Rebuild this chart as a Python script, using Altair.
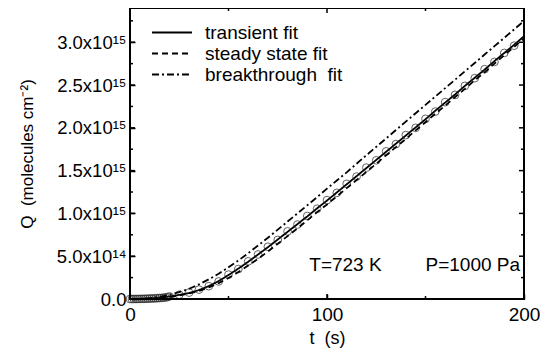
import altair as alt
import pandas as pd

# ---- data (Q values in units of 1e15 molecules cm^-2) ----
t_fit = list(range(0, 205, 5))
q_transient = [0.0, 0.002, 0.006, 0.015, 0.03, 0.048, 0.07, 0.105, 0.15, 0.21, 0.28,
               0.355, 0.435, 0.52, 0.605, 0.695, 0.785, 0.875, 0.965, 1.06, 1.15,
               1.245, 1.34, 1.435, 1.53, 1.625, 1.72, 1.815, 1.91, 2.005, 2.1,
               2.2, 2.295, 2.39, 2.49, 2.585, 2.68, 2.78, 2.875, 2.97, 3.07]
q_steady = [0.0, 0.0, 0.0, 0.005, 0.02, 0.04, 0.065, 0.095, 0.135, 0.185, 0.245,
            0.315, 0.39, 0.47, 0.555, 0.645, 0.735, 0.825, 0.92, 1.015, 1.105,
            1.2, 1.295, 1.39, 1.485, 1.58, 1.68, 1.775, 1.87, 1.97, 2.065,
            2.165, 2.26, 2.36, 2.455, 2.555, 2.65, 2.75, 2.85, 2.945, 3.045]
q_breakthrough = [0.0, 0.003, 0.01, 0.025, 0.05, 0.08, 0.12, 0.17, 0.23, 0.295, 0.37,
                  0.45, 0.535, 0.625, 0.715, 0.81, 0.905, 1.0, 1.095, 1.19, 1.29,
                  1.385, 1.48, 1.58, 1.68, 1.778, 1.876, 1.974, 2.072, 2.17, 2.268,
                  2.366, 2.464, 2.562, 2.66, 2.758, 2.856, 2.954, 3.052, 3.15, 3.248]

t_obs = list(range(0, 20)) + list(range(20, 200, 5))
q_obs = [0.0, 0.0, 0.0, 0.0, 0.001, 0.001, 0.002, 0.002, 0.003, 0.004,
         0.005, 0.006, 0.007, 0.008, 0.01, 0.011, 0.013, 0.015, 0.018, 0.022,
         0.03, 0.05, 0.075, 0.11, 0.15, 0.205, 0.285, 0.35, 0.44, 0.52,
         0.61, 0.69, 0.79, 0.87, 0.97, 1.055, 1.155, 1.24, 1.345, 1.43,
         1.535, 1.62, 1.725, 1.81, 1.915, 2.0, 2.105, 2.19, 2.3, 2.385,
         2.49, 2.58, 2.685, 2.77, 2.875, 2.96]

series_names = ["transient fit", "steady state fit", "breakthrough\u00a0 fit"]
dash_patterns = [[1, 0], [6, 4], [7, 3, 2, 3]]

x_major = [0, 100, 200]
x_minor = [50, 150]
y_major = [0, 0.5e15, 1.0e15, 1.5e15, 2.0e15, 2.5e15, 3.0e15]
y_minor = [0.25e15, 0.75e15, 1.25e15, 1.75e15, 2.25e15, 2.75e15, 3.25e15]

notes = ["T=723 K", "P=1000 Pa"]
note_t = [91, 150]
note_q = [0.395, 0.395]

x_title = "t\u00a0 (s)"
y_title = "Q\u00a0 (molecules cm\u207b\u00b2)"

W, H = 394, 291
MAJOR, MINOR = 5, 3

# ---- tables ----
fits = pd.concat([
    pd.DataFrame({"t": t_fit, "Q": [v * 1e15 for v in q], "series": name})
    for name, q in zip(series_names, [q_transient, q_steady, q_breakthrough])
])
obs = pd.DataFrame({"t": t_obs, "Q": [v * 1e15 for v in q_obs]})
notes_df = pd.DataFrame({"t": note_t, "Q": [v * 1e15 for v in note_q], "label": notes})
xmaj_df = pd.DataFrame({"t": x_major})
xmin_df = pd.DataFrame({"t": x_minor})
ymaj_df = pd.DataFrame({"Q": y_major})
ymin_df = pd.DataFrame({"Q": y_minor})
one_df = pd.DataFrame({"k": [0]})

FONT = "Liberation Sans"
xscale = alt.Scale(domain=[0, 200], nice=False, zero=False)
yscale = alt.Scale(domain=[0, 3.4e15], nice=False)

tick_style = dict(domain=False, grid=False, tickColor="black", tickWidth=1.5)

label_expr = ("datum.value == 0 ? '0.0' : (datum.value < 1e15 ? "
              "format(datum.value/1e14, '.1f') + 'x10\u00b9\u2074' : "
              "format(datum.value/1e15, '.1f') + 'x10\u00b9\u2075')")

x_axis = alt.Axis(orient="bottom", values=x_major, offset=-5, tickSize=5,
                  labelPadding=6, labelFontSize=19, labelFont=FONT,
                  labelColor="black", labelFlush=False, labelOverlap=False,
                  format="d", title=x_title, titleFont=FONT, titleFontSize=18,
                  titleFontWeight="normal", titleColor="black", titlePadding=5,
                  **tick_style)
y_axis = alt.Axis(orient="left", values=y_major, offset=-5, tickSize=5,
                  labelPadding=4, labelFontSize=18.5, labelFont=FONT,
                  labelColor="black", labelOverlap=False, labelExpr=label_expr,
                  title=y_title, titleFont=FONT,
                  titleFontSize=17, titleFontWeight="normal", titleColor="black",
                  titlePadding=20, **tick_style)

legend = alt.Legend(orient="none", legendX=21, legendY=14, title=None,
                    symbolType="stroke", symbolSize=1600, symbolStrokeWidth=2,
                    symbolStrokeColor="black", labelFontSize=19, labelFont=FONT,
                    labelColor="black", labelOffset=12, clipHeight=21, rowPadding=0,
                    padding=0, labelLimit=300)

dash = alt.StrokeDash("series:N",
                      scale=alt.Scale(domain=series_names, range=dash_patterns),
                      legend=legend)


def line_layer(name, xaxis=None, yaxis=None):
    return alt.Chart(fits).transform_filter(
        alt.datum.series == name
    ).mark_line(color="black", strokeWidth=1.8).encode(
        x=alt.X("t:Q", scale=xscale, axis=xaxis),
        y=alt.Y("Q:Q", scale=yscale, axis=yaxis),
        strokeDash=dash,
    )


circles = alt.Chart(obs).mark_point(shape="circle", filled=False, size=60,
                                    color="#222222", strokeWidth=1).encode(
    x=alt.X("t:Q", scale=xscale, axis=None),
    y=alt.Y("Q:Q", scale=yscale, axis=None),
)

steady = line_layer(series_names[1])
breakthrough = line_layer(series_names[2])
transient = line_layer(series_names[0], x_axis, y_axis)

text = alt.Chart(notes_df).mark_text(align="left", baseline="middle", fontSize=19,
                                     font=FONT, color="black").encode(
    x=alt.X("t:Q", scale=xscale, axis=None),
    y=alt.Y("Q:Q", scale=yscale, axis=None),
    text="label:N",
)

# inward ticks on all four sides, placed by the scales
tick_mark = dict(color="black", strokeWidth=1.5)


def yticks(df, x0, x1):
    return alt.Chart(df).mark_rule(**tick_mark).encode(
        y=alt.Y("Q:Q", scale=yscale, axis=None), x=alt.value(x0), x2=alt.value(x1))


def xticks(df, y0, y1):
    return alt.Chart(df).mark_rule(**tick_mark).encode(
        x=alt.X("t:Q", scale=xscale, axis=None), y=alt.value(y0), y2=alt.value(y1))


ticks = [
    yticks(ymaj_df, 0, MAJOR), yticks(ymin_df, 0, MINOR),
    yticks(ymaj_df, W, W - MAJOR), yticks(ymin_df, W, W - MINOR),
    xticks(xmaj_df, H, H - MAJOR), xticks(xmin_df, H, H - MINOR),
    xticks(xmaj_df, 0, MAJOR), xticks(xmin_df, 0, MINOR),
]

frame = alt.Chart(one_df).mark_rect(fillOpacity=0, stroke="black", strokeWidth=2).encode(
    x=alt.value(0), x2=alt.value(W), y=alt.value(0), y2=alt.value(H))

chart = alt.layer(transient, circles, steady, breakthrough, text, *ticks, frame).resolve_axis(
    x="independent", y="independent"
).properties(
    width=W, height=H,
    autosize=alt.AutoSizeParams(type="none"),
    padding={"left": 122, "top": 0, "right": 20, "bottom": 50},
).configure_view(stroke="black", strokeWidth=2)

chart.save("out.html", embed_options={"renderer": "svg", "actions": False})
